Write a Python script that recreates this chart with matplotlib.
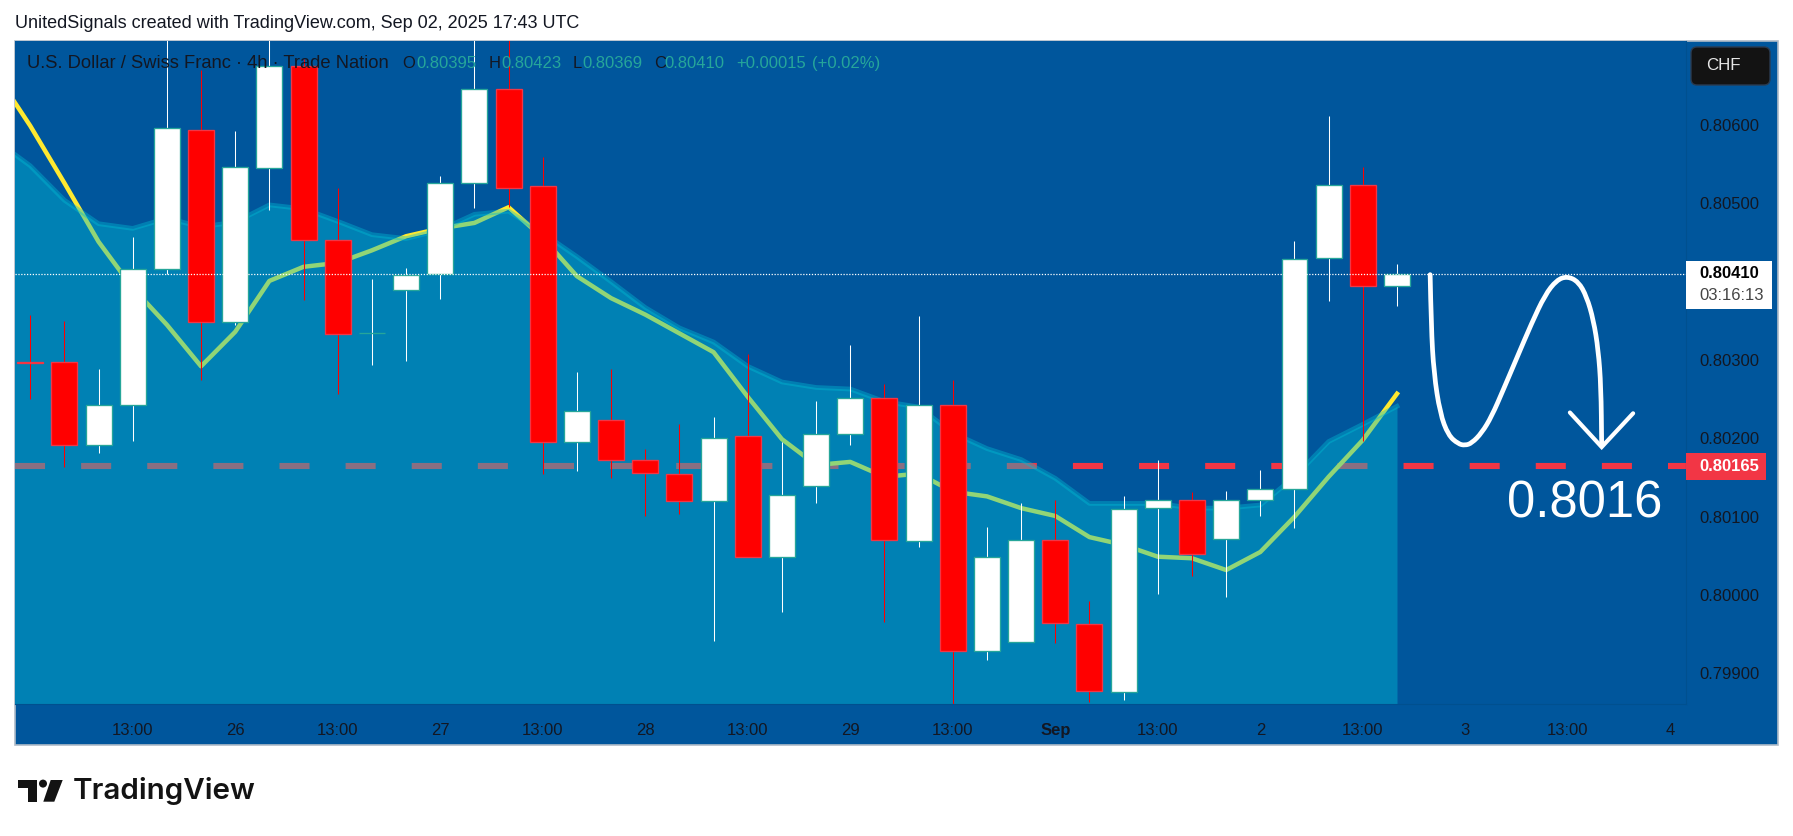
import numpy as np
import matplotlib
matplotlib.use("Agg")
import matplotlib.pyplot as plt
from matplotlib.patches import Rectangle, FancyBboxPatch, Polygon, Ellipse, PathPatch
from matplotlib.path import Path
from matplotlib.transforms import IdentityTransform

W, H = 1793, 836

title = "UnitedSignals created with TradingView.com, Sep 02, 2025 17:43 UTC"
opens = [.80298,.80297,.80192,.80242,.80416,.80593,.80348,.80545,.80675,.80453,.80335,.80390,.80410,.80526,.80646,
         .80522,.80195,.80223,.80172,.80155,.80120,.80203,.80048,.80139,.80205,.80252,.80069,.80242,.79929,.79940,
         .80070,.79963,.79876,.80111,.80121,.80071,.80121,.80135,.80430,.80524,.80395]
highs = [.80358,.80350,.80289,.80457,.80720,.80670,.80592,.80730,.80684,.80520,.80403,.80418,.80535,.80730,.80730,
         .80559,.80285,.80288,.80186,.80218,.80227,.80308,.80196,.80248,.80319,.80269,.80356,.80275,.80087,.80118,
         .80121,.79993,.80127,.80173,.80132,.80133,.80160,.80452,.80612,.80546,.80423]
lows = [.80250,.80164,.80181,.80197,.80410,.80275,.80345,.80492,.80377,.80257,.80294,.80299,.80378,.80494,.80495,
        .80155,.80158,.80150,.80101,.80104,.79941,.80048,.79979,.80118,.80192,.79966,.80062,.79861,.79917,.79940,
        .79939,.79864,.79866,.80002,.80025,.79998,.80101,.80086,.80375,.80197,.80369]
closes = [.80296,.80191,.80242,.80416,.80596,.80348,.80546,.80675,.80453,.80333,.80335,.80409,.80526,.80646,.80520,
          .80195,.80235,.80173,.80156,.80120,.80201,.80048,.80128,.80205,.80252,.80070,.80242,.79929,.80048,.80070,
          .79964,.79877,.80110,.80121,.80052,.80122,.80135,.80429,.80524,.80395,.80410]
# values start one bar before the first candle
area_line = [.80580,.80548,.80504,.80474,.80468,.80481,.80470,.80476,.80498,.80493,.80477,.80460,.80455,.80466,.80486,.80490,
             .80462,.80432,.80400,.80367,.80341,.80323,.80292,.80272,.80265,.80263,.80247,.80240,.80207,.80187,.80173,
             .80149,.80117,.80117,.80117,.80111,.80111,.80115,.80151,.80196,.80218,.80241]
fast_line = [.80665,.80599,.80526,.80451,.80392,.80345,.80292,.80336,.80401,.80419,.80424,.80440,.80458,.80468,.80475,.80495,
             .80456,.80407,.80379,.80358,.80334,.80310,.80253,.80199,.80166,.80170,.80151,.80155,.80132,.80126,.80111,
             .80101,.80074,.80064,.80049,.80047,.80032,.80055,.80100,.80151,.80198,.80257]
last_price = 0.80410
target_price = 0.80165
sketch_x = [40.97,41.00,41.08,41.26,41.50,41.79,41.99,42.19,42.48,42.77,43.11,43.50,43.94,44.33,44.67,44.98,45.31,45.55,
            45.75,45.89,45.97,45.99]
sketch_y = [.80409,.80343,.80283,.80232,.80204,.80193,.80191,.80194,.80207,.80228,.80262,.80302,.80347,.80383,.80402,
            .80407,.80400,.80381,.80351,.80313,.80266,.80192]
arrow_x = [45.06,45.99,46.91]
arrow_y = [.80233,.80189,.80232]
xtick_pos = [3,6,9,12,15,18,21,24,27,30,33,36,39,42,45,48]
xtick_lab = ["13:00","26","13:00","27","13:00","28","13:00","29","13:00","Sep","13:00","2","13:00","3","13:00","4"]
ytick_pos = [.799,.800,.801,.802,.803,.805,.806]

BG = "#00569C"; TXT = "#131722"; GRN = "#26A69A"; RED = "#F23645"; CY = "#00BCD4"; YEL = "#FFE930"
plt.rcParams["font.family"] = ["Liberation Sans", "DejaVu Sans"]

fig = plt.figure(figsize=(W/100, H/100), dpi=100, facecolor="white")
fx = lambda x: x/W
fy = lambda y: 1-y/H
def px_text(x, y, s, **k):
    k.setdefault("va", "center"); k.setdefault("ha", "left")
    k.setdefault("color", TXT); k.setdefault("fontsize", 12)
    return fig.text(fx(x), fy(y), s, **k)

# frame
fig.add_artist(Rectangle((fx(15), fy(745)), 1763/W, 704/H, transform=fig.transFigure,
                         facecolor=BG, edgecolor="#AFBBC8", lw=1.2, zorder=0))

ax = fig.add_axes([fx(15.3), fy(704), (1685.6-15.3)/W, (704-41.3)/H], zorder=1)
ax.set_facecolor(BG)
ax.set_xlim(-0.436, 48.446)
ax.set_ylim(0.79861, 0.807068)
for s in ("left", "top"):
    ax.spines[s].set_visible(False)
for s in ("bottom", "right"):
    ax.spines[s].set_color("#00508F"); ax.spines[s].set_linewidth(0.8)
ax.yaxis.tick_right()
ax.set_xticks(xtick_pos, xtick_lab)
ax.set_yticks(ytick_pos, [f"{v:.5f}" for v in ytick_pos])
ax.tick_params(axis="both", length=0, colors=TXT, labelsize=12)
ax.tick_params(axis="x", pad=14)
ax.tick_params(axis="y", pad=10)
for lab in ax.get_xticklabels():
    if lab.get_text() == "Sep":
        lab.set_fontweight("bold")

x_line = np.arange(-1, 41)
x = np.arange(41)
ymin = ax.get_ylim()[0]
ax.axhline(target_price, color=RED, lw=4.4, ls=(0, (30/6.1, 36/6.1)), dash_capstyle="butt", zorder=1)
ax.plot(x_line, fast_line, color=YEL, lw=3.2, zorder=1.5, solid_joinstyle="round")
ax.fill_between(x_line, area_line, ymin, color=CY, alpha=0.43, lw=0, zorder=2)
ax.plot(x_line, area_line, color=CY, alpha=0.4, lw=3.4, zorder=2.1)

o, h, l, c = map(np.array, (opens, highs, lows, closes))
up = c >= o
ax.vlines(x[up], l[up], h[up], color="white", lw=0.75, zorder=3)
ax.vlines(x[~up], l[~up], h[~up], color="#FF0000", lw=0.75, zorder=3)
w = 0.76
ax.bar(x[up], (c-o)[up], bottom=o[up], width=w, color="white", edgecolor=GRN, lw=0.95, zorder=3.5)
ax.bar(x[~up], (c-o)[~up], bottom=o[~up], width=w, color="#FF0000", edgecolor=RED, lw=0.95, zorder=3.5)
ax.axhline(last_price, color="white", lw=0.9, ls=(0, (1, 1.3)), zorder=4)

# hand drawn stroke: quadratic segments through the midpoints of the read points
pts = np.column_stack([sketch_x, sketch_y])
verts = [pts[0]]
codes = [Path.MOVETO]
for a, b in zip(pts[1:-1], pts[2:]):
    verts += [a, (a+b)/2]
    codes += [Path.CURVE3, Path.CURVE3]
verts.append(pts[-1]); codes.append(Path.LINETO)
ax.add_patch(PathPatch(Path(np.array(verts), codes), fill=False, edgecolor="white", lw=3.4, capstyle="round",
                       joinstyle="round", zorder=5))
ax.plot(arrow_x, arrow_y, color="white", lw=3.0, solid_capstyle="round", solid_joinstyle="miter", zorder=5)
ax.text(43.22, 0.80099, "0.8016", color="white", fontsize=36.5, ha="left", va="baseline", zorder=5)

# texts on top of the plot
px_text(15, 23, title, fontsize=13)
px_text(27, 63.5, "U.S. Dollar / Swiss Franc · 4h · Trade Nation", fontsize=13.2, zorder=6)
for xp, s, col in [(402, "O", TXT), (416.4, "0.80395", GRN), (488.7, "H", TXT), (501, "0.80423", GRN),
                   (573, "L", TXT), (582, "0.80369", GRN), (654.3, "C", TXT), (664, "0.80410", GRN),
                   (736, "+0.00015", GRN), (811.6, "(+0.02%)", GRN)]:
    px_text(xp, 63.5, s, color=col, fontsize=12, zorder=6)

# price axis badges
fig.add_artist(FancyBboxPatch((1691, H-85), 79, 38, boxstyle="round,pad=0,rounding_size=6",
                              transform=IdentityTransform(), facecolor="#131313", edgecolor="#2A3B50", lw=1, zorder=6))
px_text(1705.7, 66, "CHF", color="#E6E6E6", fontsize=12.2, zorder=7)
fig.add_artist(Rectangle((fx(1686), fy(308.7)), 86/W, 47.7/H, transform=fig.transFigure, facecolor="white", lw=0, zorder=6))
px_text(1699, 274, f"{last_price:.5f}", color="black", fontsize=12, fontweight="bold", zorder=7)
px_text(1699, 295, "03:16:13", color="#444444", fontsize=12, zorder=7)
fig.add_artist(Rectangle((fx(1686), fy(480)), 80/W, 26.7/H, transform=fig.transFigure, facecolor=RED, lw=0, zorder=6))
px_text(1699, 466.5, f"{target_price:.5f}", color="white", fontsize=12, fontweight="bold", zorder=7)

# logo
tf = fig.transFigure
ic = "#131313"
def poly(pts):
    fig.add_artist(Polygon([(fx(a), fy(b)) for a, b in pts], closed=True, transform=tf, facecolor=ic, lw=0))
poly([(18.3, 780), (36.7, 780), (36.7, 801.7), (28.3, 801.7), (28.3, 788), (18.3, 788)])
poly([(62.7, 780), (50.7, 780), (43.3, 801.7), (54.3, 801.7)])
fig.add_artist(Ellipse((fx(43), fy(783.6)), 8/W, 8/H, transform=tf, facecolor=ic, lw=0))
px_text(73, 791, "TradingView", fontsize=21.3, family="Inter", fontweight="semibold", color=ic)

fig.savefig("out.png", dpi=100)
